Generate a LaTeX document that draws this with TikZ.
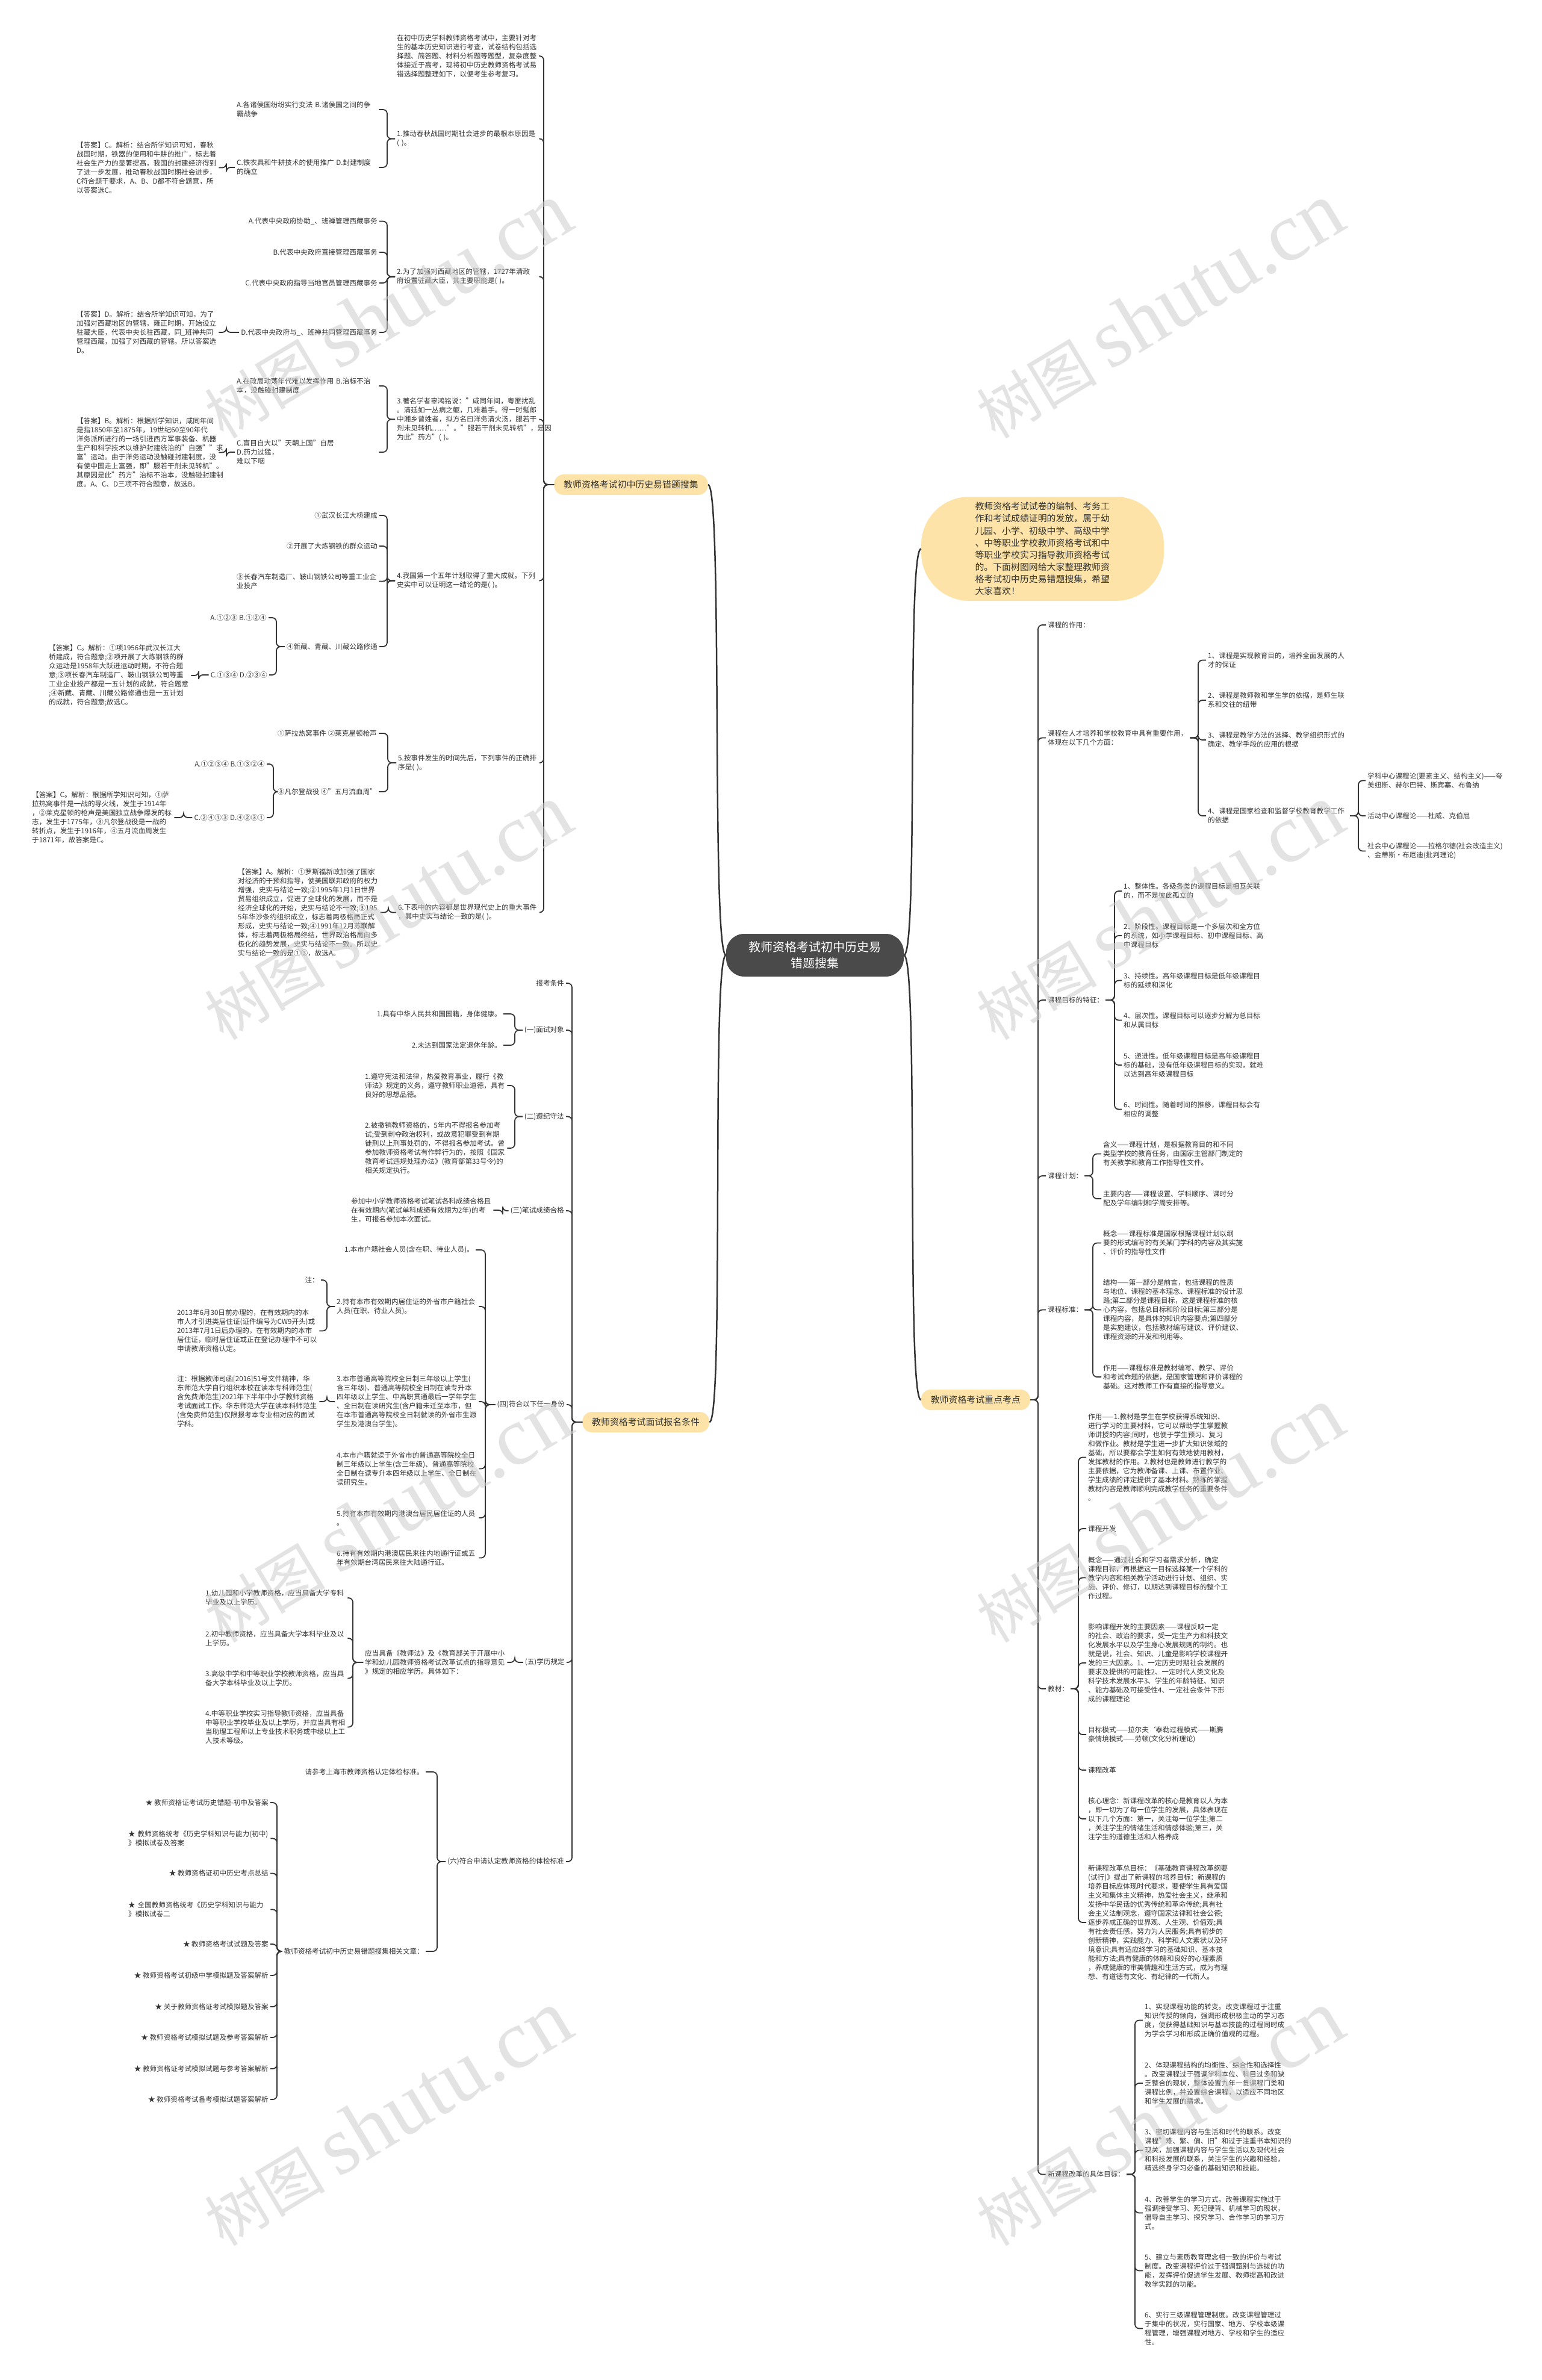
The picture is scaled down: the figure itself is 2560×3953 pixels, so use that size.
\documentclass[tikz,border=0pt]{standalone}
\usepackage{fontspec}
\setmainfont{Noto Sans CJK SC}
\newfontfamily\wmserif{Liberation Serif}
\definecolor{txt}{HTML}{333333}
\definecolor{lnc}{HTML}{333333}
\definecolor{ylw}{HTML}{FDE3A7}
\definecolor{dk}{HTML}{4A4A4A}
\tikzset{
 tx/.style={font=\fontsize{11.6}{15}\selectfont, text=txt, inner xsep=3pt, inner ysep=1pt, align=left},
 bk/.style={tx, text width=233pt, anchor=west},
 lft/.style={tx, anchor=east},
 rgt/.style={tx, anchor=west},
 lnk/.style={draw=lnc, line width=1.8pt, rounded corners=7pt},
 mainlnk/.style={draw=lnc, line width=2.5pt},
 brn/.style={fill=ylw, rounded corners=16pt, font=\fontsize{14.9}{18}\selectfont, text=txt, inner xsep=16pt, minimum height=34pt},
 wmk/.style={rotate=31, text=gray!40, text opacity=0.55, inner sep=0pt}
}
\newcommand\lkL[3]{\draw[lnk] (#1.west) -- (#2,0 |- #1.west) |- (#3.east);}
\newcommand\lkR[3]{\draw[lnk] (#1.east) -- (#2,0 |- #1.east) |- (#3.west);}
\begin{document}
\begin{tikzpicture}[x=1pt,y=-1pt]
\fill[white] (0,0) rectangle (2560,3953);
\useasboundingbox (0,0) rectangle (2560,3953);

% ---------- center ----------
\node[fill=dk, rounded corners=30pt, minimum width=295pt, minimum height=71pt, text=white, align=center, font=\fontsize{20}{27}\selectfont] (c0) at (1353.5,1586.5) {教师资格考试初中历史易\\错题搜集};

% ---------- branch 1 ----------
\node[brn, anchor=west] (b1) at (920,805) {教师资格考试初中历史易错题搜集};
\draw[mainlnk] (c0.west) .. controls +(-25,0) and +(25,0) .. (b1.east);

\node[bk] (n0) at (656,93) {在初中历史学科教师资格考试中，主要针对考\\生的基本历史知识进行考查，试卷结构包括选\\择题、简答题、材料分析题等题型，复杂度整\\体接近于高考，现将初中历史教师资格考试易\\错选择题整理如下，以便考生参考复习。};

\node[bk] (q1) at (656,230.5) {1.推动春秋战国时期社会进步的最根本原因是\\( )。};
\node[bk] (q1a) at (390,182) {A.各诸侯国纷纷实行变法 B.诸侯国之间的争\\霸战争};
\node[bk] (q1c) at (390,278) {C.铁农具和牛耕技术的使用推广 D.封建制度\\的确立};
\node[bk] (q1s) at (124,278.5) {【答案】C。解析：结合所学知识可知，春秋\\战国时期，铁器的使用和牛耕的推广，标志着\\社会生产力的显著提高，我国的封建经济得到\\了进一步发展，推动春秋战国时期社会进步，\\C符合题干要求，A、B、D都不符合题意，所\\以答案选C。};

\node[bk] (q2) at (656,459.5) {2.为了加强对西藏地区的管辖，1727年清政\\府设置驻藏大臣，其主要职能是( )。};
\node[lft] (q2a) at (630,367.5) {A.代表中央政府协助\_、班禅管理西藏事务};
\node[lft] (q2b) at (630,419) {B.代表中央政府直接管理西藏事务};
\node[lft] (q2c) at (630,470) {C.代表中央政府指导当地官员管理西藏事务};
\node[lft] (q2d) at (630,552) {D.代表中央政府与\_、班禅共同管理西藏事务};
\node[bk] (q2s) at (124,552) {【答案】D。解析：结合所学知识可知，为了\\加强对西藏地区的管辖，雍正时期，开始设立\\驻藏大臣，代表中央长驻西藏，同\_班禅共同\\管理西藏，加强了对西藏的管辖。所以答案选\\D。};

\node[bk] (q3) at (656,696.5) {3.著名学者辜鸿铭说："咸同年间，粤匪扰乱\\。清廷如一丛病之躯，几难着手。得一时髦郎\\中湘乡曾姓者，拟方名曰洋务清火汤，服若干\\剂未见转机……"。"服若干剂未见转机"，是因\\为此"药方"( )。};
\node[bk] (q3a) at (390,641) {A.在政局动荡年代难以发挥作用 B.治标不治\\本，没触碰封建制度};
\node[bk] (q3c) at (390,751) {C.盲目自大以"天朝上国"自居 D.药力过猛，\\难以下咽};
\node[bk] (q3s) at (124,751.5) {【答案】B。解析：根据所学知识，咸同年间\\是指1850年至1875年，19世纪60至90年代\\洋务派所进行的一场引进西方军事装备、机器\\生产和科学技术以维护封建统治的"自强""求\\富"运动。由于洋务运动没触碰封建制度，没\\有使中国走上富强，即"服若干剂未见转机"。\\其原因是此"药方"治标不治本，没触碰封建制\\度。A、C、D三项不符合题意，故选B。};

\node[bk] (q4) at (656,964.5) {4.我国第一个五年计划取得了重大成就。下列\\史实中可以证明这一结论的是( )。};
\node[lft] (q4a) at (630,856) {①武汉长江大桥建成};
\node[lft] (q4b) at (630,907) {②开展了大炼钢铁的群众运动};
\node[bk] (q4c) at (390,965.5) {③长春汽车制造厂、鞍山钢铁公司等重工业企\\业投产};
\node[lft] (q4d) at (630,1074) {④新藏、青藏、川藏公路修通};
\node[lft] (q4e) at (446,1026) {A.①②③ B.①②④};
\node[lft] (q4f) at (447,1121) {C.①③④ D.②③④};
\node[bk] (q4s) at (78,1122) {【答案】C。解析：①项1956年武汉长江大\\桥建成，符合题意;②项开展了大炼钢铁的群\\众运动是1958年大跃进运动时期，不符合题\\意;③项长春汽车制造厂、鞍山钢铁公司等重\\工业企业投产都是一五计划的成就，符合题意\\;④新藏、青藏、川藏公路修通也是一五计划\\的成就，符合题意;故选C。};

\node[bk] (q5) at (658,1267) {5.按事件发生的时间先后，下列事件的正确排\\序是( )。};
\node[lft] (q5a) at (629,1218) {①萨拉热窝事件 ②莱克星顿枪声};
\node[lft] (q5b) at (629,1315) {③凡尔登战役 ④"五月流血周"};
\node[lft] (q5c) at (443,1269) {A.①②③④ B.①③②④};
\node[lft] (q5d) at (443,1358) {C.②④①③ D.④②③①};
\node[bk] (q5s) at (50,1358) {【答案】C。解析：根据所学知识可知，①萨\\拉热窝事件是一战的导火线，发生于1914年\\，②莱克星顿的枪声是美国独立战争爆发的标\\志，发生于1775年，③凡尔登战役是一战的\\转折点，发生于1916年，④五月流血周发生\\于1871年，故答案是C。};

\node[bk] (q6) at (658,1515.5) {6.下表中的内容都是世界现代史上的重大事件\\，其中史实与结论一致的是( )。};
\node[bk] (q6s) at (392,1515.5) {【答案】A。解析：①罗斯福新政加强了国家\\对经济的干预和指导，使美国联邦政府的权力\\增强，史实与结论一致;②1995年1月1日世界\\贸易组织成立，促进了全球化的发展，而不是\\经济全球化的开始，史实与结论不一致;③195\\5年华沙条约组织成立，标志着两极格局正式\\形成，史实与结论一致;④1991年12月苏联解\\体，标志着两极格局终结，世界政治格局向多\\极化的趋势发展，史实与结论不一致。所以史\\实与结论一致的是①③，故选A。};

\foreach \c in {n0,q1,q2,q3,q4,q5,q6} {\lkL{b1}{903}{\c}}
\foreach \c in {q1a,q1c} {\lkL{q1}{643}{\c}}
\lkL{q1c}{376}{q1s}
\foreach \c in {q2a,q2b,q2c,q2d} {\lkL{q2}{643}{\c}}
\lkL{q2d}{376}{q2s}
\foreach \c in {q3a,q3c} {\lkL{q3}{643}{\c}}
\lkL{q3c}{376}{q3s}
\foreach \c in {q4a,q4b,q4c,q4d} {\lkL{q4}{643}{\c}}
\foreach \c in {q4e,q4f} {\lkL{q4d}{459}{\c}}
\lkL{q4f}{330}{q4s}
\foreach \c in {q5a,q5b} {\lkL{q5}{644}{\c}}
\foreach \c in {q5c,q5d} {\lkL{q5b}{454}{\c}}
\lkL{q5d}{305}{q5s}
\lkL{q6}{645}{q6s}

% ---------- branch 2 ----------
\node[brn, anchor=west] (b2) at (967,2362) {教师资格考试面试报名条件};
\draw[mainlnk] (c0.west) .. controls +(-25,0) and +(25,0) .. (b2.east);

\node[lft] (p0) at (940,1633) {报考条件};
\node[lft] (p1) at (940,1711) {(一)面试对象};
\node[lft] (p2) at (940,1854.5) {(二)遵纪守法};
\node[lft] (p3) at (940,2011) {(三)笔试成绩合格};
\node[lft] (p4) at (941,2333) {(四)符合以下任一身份};
\node[lft] (p5) at (941,2761) {(五)学历规定};
\node[lft] (p6) at (940,3092) {(六)符合申请认定教师资格的体检标准};
\foreach \c in {p0,p1,p2,p3,p4,p5,p6} {\lkL{b2}{950}{\c}}

\node[lft] (p1a) at (836,1684) {1.具有中华人民共和国国籍，身体健康。};
\node[lft] (p1b) at (836,1736) {2.未达到国家法定退休年龄。};
\foreach \c in {p1a,p1b} {\lkL{p1}{855}{\c}}

\node[bk] (p2a) at (603,1803) {1.遵守宪法和法律，热爱教育事业，履行《教\\师法》规定的义务，遵守教师职业道德，具有\\良好的思想品德。};
\node[bk] (p2b) at (603,1907) {2.被撤销教师资格的，5年内不得报名参加考\\试;受到剥夺政治权利，或故意犯罪受到有期\\徒刑以上刑事处罚的，不得报名参加考试。曾\\参加教师资格考试有作弊行为的，按照《国家\\教育考试违规处理办法》(教育部第33号令)的\\相关规定执行。};
\foreach \c in {p2a,p2b} {\lkL{p2}{855}{\c}}

\node[bk] (p3a) at (580,2010) {参加中小学教师资格考试笔试各科成绩合格且\\在有效期内(笔试单科成绩有效期为2年)的考\\生，可报名参加本次面试。};
\lkL{p3}{835}{p3a}

\node[lft] (p4a) at (790,2076) {1.本市户籍社会人员(含在职、待业人员)。};
\node[bk] (p4b) at (556,2170) {2.持有本市有效期内居住证的外省市户籍社会\\人员(在职、待业人员)。};
\node[bk] (p4c) at (556,2328) {3.本市普通高等院校全日制三年级以上学生(\\含三年级)、普通高等院校全日制在读专升本\\四年级以上学生、中高职贯通最后一学年学生\\、全日制在读研究生(含户籍未迁至本市，但\\在本市普通高等院校全日制就读的外省市生源\\学生及港澳台学生)。};
\node[bk] (p4d) at (556,2439.5) {4.本市户籍就读于外省市的普通高等院校全日\\制三年级以上学生(含三年级)、普通高等院校\\全日制在读专升本四年级以上学生、全日制在\\读研究生。};
\node[bk] (p4e) at (556,2521) {5.持有本市有效期内港澳台居民居住证的人员\\。};
\node[bk] (p4f) at (556,2587.5) {6.持有有效期内港澳居民来往内地通行证或五\\年有效期台湾居民来往大陆通行证。};
\foreach \c in {p4a,p4b,p4c,p4d,p4e,p4f} {\lkL{p4}{806}{\c}}

\node[lft] (p4b1) at (533,2126) {注：};
\node[bk] (p4b2) at (291,2210.5) {2013年6月30日前办理的，在有效期内的本\\市人才引进类居住证(证件编号为CW9开头)或\\2013年7月1日后办理的，在有效期内的本市\\居住证，临时居住证或正在登记办理中不可以\\申请教师资格认定。};
\foreach \c in {p4b1,p4b2} {\lkL{p4b}{543}{\c}}
\node[bk] (p4c1) at (291,2328) {注：根据教师司函[2016]51号文件精神，华\\东师范大学自行组织本校在读本专科师范生(\\含免费师范生)2021年下半年中小学教师资格\\考试面试工作。华东师范大学在读本科师范生\\(含免费师范生)仅限报考本专业相对应的面试\\学科。};
\lkL{p4c}{543}{p4c1}

\node[bk] (p5a) at (603,2761) {应当具备《教师法》及《教育部关于开展中小\\学和幼儿园教师资格考试改革试点的指导意见\\》规定的相应学历。具体如下：};
\lkL{p5}{855}{p5a}
\node[bk] (p5a1) at (338,2654) {1.幼儿园和小学教师资格，应当具备大学专科\\毕业及以上学历。};
\node[bk] (p5a2) at (338,2721) {2.初中教师资格，应当具备大学本科毕业及以\\上学历。};
\node[bk] (p5a3) at (338,2787.5) {3.高级中学和中等职业学校教师资格，应当具\\备大学本科毕业及以上学历。};
\node[bk] (p5a4) at (338,2868.5) {4.中等职业学校实习指导教师资格，应当具备\\中等职业学校毕业及以上学历，并应当具有相\\当助理工程师以上专业技术职务或中级以上工\\人技术等级。};
\foreach \c in {p5a1,p5a2,p5a3,p5a4} {\lkL{p5a}{586}{\c}}

\node[lft] (p6a) at (707,2943) {请参考上海市教师资格认定体检标准。};
\node[lft] (p6b) at (707,3241) {教师资格考试初中历史易错题搜集相关文章：};
\foreach \c in {p6a,p6b} {\lkL{p6}{726}{\c}}

\node[lft] (r1) at (449,2994) {★ 教师资格证考试历史错题-初中及答案};
\node[bk] (r2) at (210,3053.5) {★ 教师资格统考《历史学科知识与能力(初中)\\》模拟试卷及答案};
\node[lft] (r3) at (449,3111.5) {★ 教师资格证初中历史考点总结};
\node[bk] (r4) at (210,3171.5) {★ 全国教师资格统考《历史学科知识与能力\\》模拟试卷二};
\node[lft] (r5) at (449,3229) {★ 教师资格考试试题及答案};
\node[lft] (r6) at (449,3281) {★ 教师资格考试初级中学模拟题及答案解析};
\node[lft] (r7) at (449,3333) {★ 关于教师资格证考试模拟题及答案};
\node[lft] (r8) at (449,3384) {★ 教师资格考试模拟试题及参考答案解析};
\node[lft] (r9) at (449,3436) {★ 教师资格证考试模拟试题与参考答案解析};
\node[lft] (r10) at (449,3487) {★ 教师资格考试备考模拟试题答案解析};
\foreach \c in {r1,r2,r3,r4,r5,r6,r7,r8,r9,r10} {\lkL{p6b}{460}{\c}}

% ---------- intro bubble ----------
\node[fill=ylw, rounded corners=80pt, minimum width=403pt, minimum height=173pt, text width=224pt, align=left, text=txt, font=\fontsize{14.9}{20.1}\selectfont] (ib) at (1731.5,911.5) {教师资格考试试卷的编制、考务工\\作和考试成绩证明的发放，属于幼\\儿园、小学、初级中学、高级中学\\、中等职业学校教师资格考试和中\\等职业学校实习指导教师资格考试\\的。下面树图网给大家整理教师资\\格考试初中历史易错题搜集，希望\\大家喜欢！};
\draw[mainlnk] (c0.east) .. controls +(25,0) and +(-25,0) .. (ib.west);

% ---------- branch 3 ----------
\node[brn, anchor=east] (b3) at (1711,2325) {教师资格考试重点考点};
\draw[mainlnk] (c0.east) .. controls +(25,0) and +(-25,0) .. (b3.west);

\node[rgt] (k1) at (1737,1038) {课程的作用：};
\node[bk] (k2) at (1737,1225.5) {课程在人才培养和学校教育中具有重要作用，\\体现在以下几个方面：};
\node[rgt] (k3) at (1737,1661) {课程目标的特征：};
\node[rgt] (k4) at (1737,1953) {课程计划：};
\node[rgt] (k5) at (1737,2175.5) {课程标准：};
\node[rgt] (k6) at (1737,2805) {教材：};
\node[rgt] (k7) at (1737,3611.5) {新课程改革的具体目标：};
\foreach \c in {k1,k2,k3,k4,k5,k6,k7} {\lkR{b3}{1724}{\c}}

\node[bk] (k2a) at (2003,1096.5) {1、课程是实现教育目的，培养全面发展的人\\才的保证};
\node[bk] (k2b) at (2003,1163) {2、课程是教师教和学生学的依据，是师生联\\系和交往的纽带};
\node[bk] (k2c) at (2003,1229) {3、课程是教学方法的选择、教学组织形式的\\确定、教学手段的应用的根据};
\node[bk] (k2d) at (2003,1355) {4、课程是国家检查和监督学校教育教学工作\\的依据};
\foreach \c in {k2a,k2b,k2c,k2d} {\lkR{k2}{1990}{\c}}
\node[bk] (k2d1) at (2268,1296.5) {学科中心课程论(要素主义、结构主义)——夸\\美纽斯、赫尔巴特、斯宾塞、布鲁纳};
\node[rgt] (k2d2) at (2268,1355) {活动中心课程论——杜威、克伯屈};
\node[bk] (k2d3) at (2268,1413.5) {社会中心课程论——拉格尔德(社会改造主义)\\、金蒂斯·布厄迪(批判理论)};
\foreach \c in {k2d1,k2d2,k2d3} {\lkR{k2d}{2256}{\c}}

\node[bk] (k3a) at (1863,1480) {1、整体性。各级各类的课程目标是相互关联\\的，而不是彼此孤立的};
\node[bk] (k3b) at (1863,1554) {2、阶段性。课程目标是一个多层次和全方位\\的系统，如小学课程目标、初中课程目标、高\\中课程目标};
\node[bk] (k3c) at (1863,1628.5) {3、持续性。高年级课程目标是低年级课程目\\标的延续和深化};
\node[bk] (k3d) at (1863,1694.5) {4、层次性。课程目标可以逐步分解为总目标\\和从属目标};
\node[bk] (k3e) at (1863,1769) {5、递进性。低年级课程目标是高年级课程目\\标的基础，没有低年级课程目标的实现，就难\\以达到高年级课程目标};
\node[bk] (k3f) at (1863,1842.5) {6、时间性。随着时间的推移，课程目标会有\\相应的调整};
\foreach \c in {k3a,k3b,k3c,k3d,k3e,k3f} {\lkR{k3}{1851}{\c}}

\node[bk] (k4a) at (1829,1916.5) {含义——课程计划，是根据教育目的和不同\\类型学校的教育任务，由国家主管部门制定的\\有关教学和教育工作指导性文件。};
\node[bk] (k4b) at (1829,1991) {主要内容——课程设置、学科顺序、课时分\\配及学年编制和学周安排等。};
\foreach \c in {k4a,k4b} {\lkR{k4}{1815}{\c}}

\node[bk] (k5a) at (1829,2064.5) {概念——课程标准是国家根据课程计划以纲\\要的形式编写的有关某门学科的内容及其实施\\、评价的指导性文件};
\node[bk] (k5b) at (1829,2175.5) {结构——第一部分是前言，包括课程的性质\\与地位、课程的基本理念、课程标准的设计思\\路;第二部分是课程目标，这是课程标准的核\\心内容，包括总目标和阶段目标;第三部分是\\课程内容，是具体的知识内容要点;第四部分\\是实施建议，包括教材编写建议、评价建议、\\课程资源的开发和利用等。};
\node[bk] (k5c) at (1829,2287) {作用——课程标准是教材编写、教学、评价\\和考试命题的依据，是国家管理和评价课程的\\基础。这对教师工作有直接的指导意义。};
\foreach \c in {k5a,k5b,k5c} {\lkR{k5}{1815}{\c}}

\node[bk] (k6a) at (1804,2420.5) {作用——1.教材是学生在学校获得系统知识、\\进行学习的主要材料，它可以帮助学生掌握教\\师讲授的内容;同时，也便于学生预习、复习\\和做作业。教材是学生进一步扩大知识领域的\\基础，所以要都会学生如何有效地使用教材，\\发挥教材的作用。2.教材也是教师进行教学的\\主要依据，它为教师备课、上课、布置作业、\\学生成绩的评定提供了基本材料。熟练的掌握\\教材内容是教师顺利完成教学任务的重要条件\\。};
\node[rgt] (k6b) at (1804,2539) {课程开发};
\node[bk] (k6c) at (1804,2620.5) {概念——通过社会和学习者需求分析，确定\\课程目标，再根据这一目标选择某一个学科的\\教学内容和相关教学活动进行计划、组织、实\\施、评价、修订，以期达到课程目标的整个工\\作过程。};
\node[bk] (k6d) at (1804,2762) {影响课程开发的主要因素——课程反映一定\\的社会、政治的要求，受一定生产力和科技文\\化发展水平以及学生身心发展规则的制约。也\\就是说，社会、知识、儿童是影响学校课程开\\发的三大因素。1、一定历史时期社会发展的\\要求及提供的可能性2、一定时代人类文化及\\科学技术发展水平3、学生的年龄特征、知识\\、能力基础及可接受性4、一定社会条件下形\\成的课程理论};
\node[bk] (k6e) at (1804,2881) {目标模式——拉尔夫`泰勒过程模式——斯腾\\豪情境模式——劳顿(文化分析理论)};
\node[rgt] (k6f) at (1804,2940) {课程改革};
\node[bk] (k6g) at (1804,3021) {核心理念：新课程改革的核心是教育以人为本\\，即一切为了每一位学生的发展，具体表现在\\以下几个方面：第一，关注每一位学生;第二\\，关注学生的情绪生活和情感体验;第三，关\\注学生的道德生活和人格养成};
\node[bk] (k6h) at (1804,3193) {新课程改革总目标：《基础教育课程改革纲要\\(试行)》提出了新课程的培养目标：新课程的\\培养目标应体现时代要求，要使学生具有爱国\\主义和集体主义精神，热爱社会主义，继承和\\发扬中华民话的优秀传统和革命传统;具有社\\会主义法制观念，遵守国家法律和社会公德;\\逐步养成正确的世界观、人生观、价值观;具\\有社会责任感，努力为人民服务;具有初步的\\创新精神，实践能力、科学和人文素状以及环\\境意识;具有适应终学习的基础知识、基本技\\能和方法;具有健康的体魄和良好的心理素质\\，养成健康的审美情趣和生活方式，成为有理\\想、有道德有文化、有纪律的一代新人。};
\foreach \c in {k6a,k6b,k6c,k6d,k6e,k6f,k6g,k6h} {\lkR{k6}{1791}{\c}}

\node[bk] (k7a) at (1898,3355.5) {1、实现课程功能的转变。改变课程过于注重\\知识传授的倾向，强调形成积极主动的学习态\\度，使获得基础知识与基本技能的过程同时成\\为学会学习和形成正确价值观的过程。};
\node[bk] (k7b) at (1898,3460) {2、体现课程结构的均衡性、综合性和选择性\\。改变课程过于强调学科本位、科目过多和缺\\乏整合的现状，整体设置九年一贯课程门类和\\课程比例，并设置综合课程，以适应不同地区\\和学生发展的需求。};
\node[bk] (k7c) at (1898,3571.5) {3、密切课程内容与生活和时代的联系。改变\\课程"难、繁、偏、旧"和过于注重书本知识的\\现关，加强课程内容与学生生活以及现代社会\\和科技发展的联系，关注学生的兴趣和经验，\\精选终身学习必备的基础知识和技能。};
\node[bk] (k7d) at (1898,3675.5) {4、改善学生的学习方式。改善课程实施过于\\强调接受学习、死记硬背、机械学习的现状，\\倡导自主学习、探究学习、合作学习的学习方\\式。};
\node[bk] (k7e) at (1898,3771.5) {5、建立与素质教育理念相一致的评价与考试\\制度。改变课程评价过于强调甄别与选拔的功\\能，发挥评价促进学生发展、教师提高和改进\\教学实践的功能。};
\node[bk] (k7f) at (1898,3867.5) {6、实行三级课程管理制度。改变课程管理过\\于集中的状况，实行国家、地方、学校本级课\\程管理，增强课程对地方、学校和学生的适应\\性。};
\foreach \c in {k7a,k7b,k7c,k7d,k7e,k7f} {\lkR{k7}{1885}{\c}}

% ---------- watermarks ----------
\foreach \x in {643,1925} {
 \foreach \y in {516,1515,2516,3518} {
  \node[wmk] (wm-\x-\y) at (\x,\y) {{\fontsize{100}{100}\selectfont 树图}\hspace{22pt}{\wmserif\fontsize{138}{138}\selectfont shutu.cn}};
 }
}
\end{tikzpicture}
\end{document}
